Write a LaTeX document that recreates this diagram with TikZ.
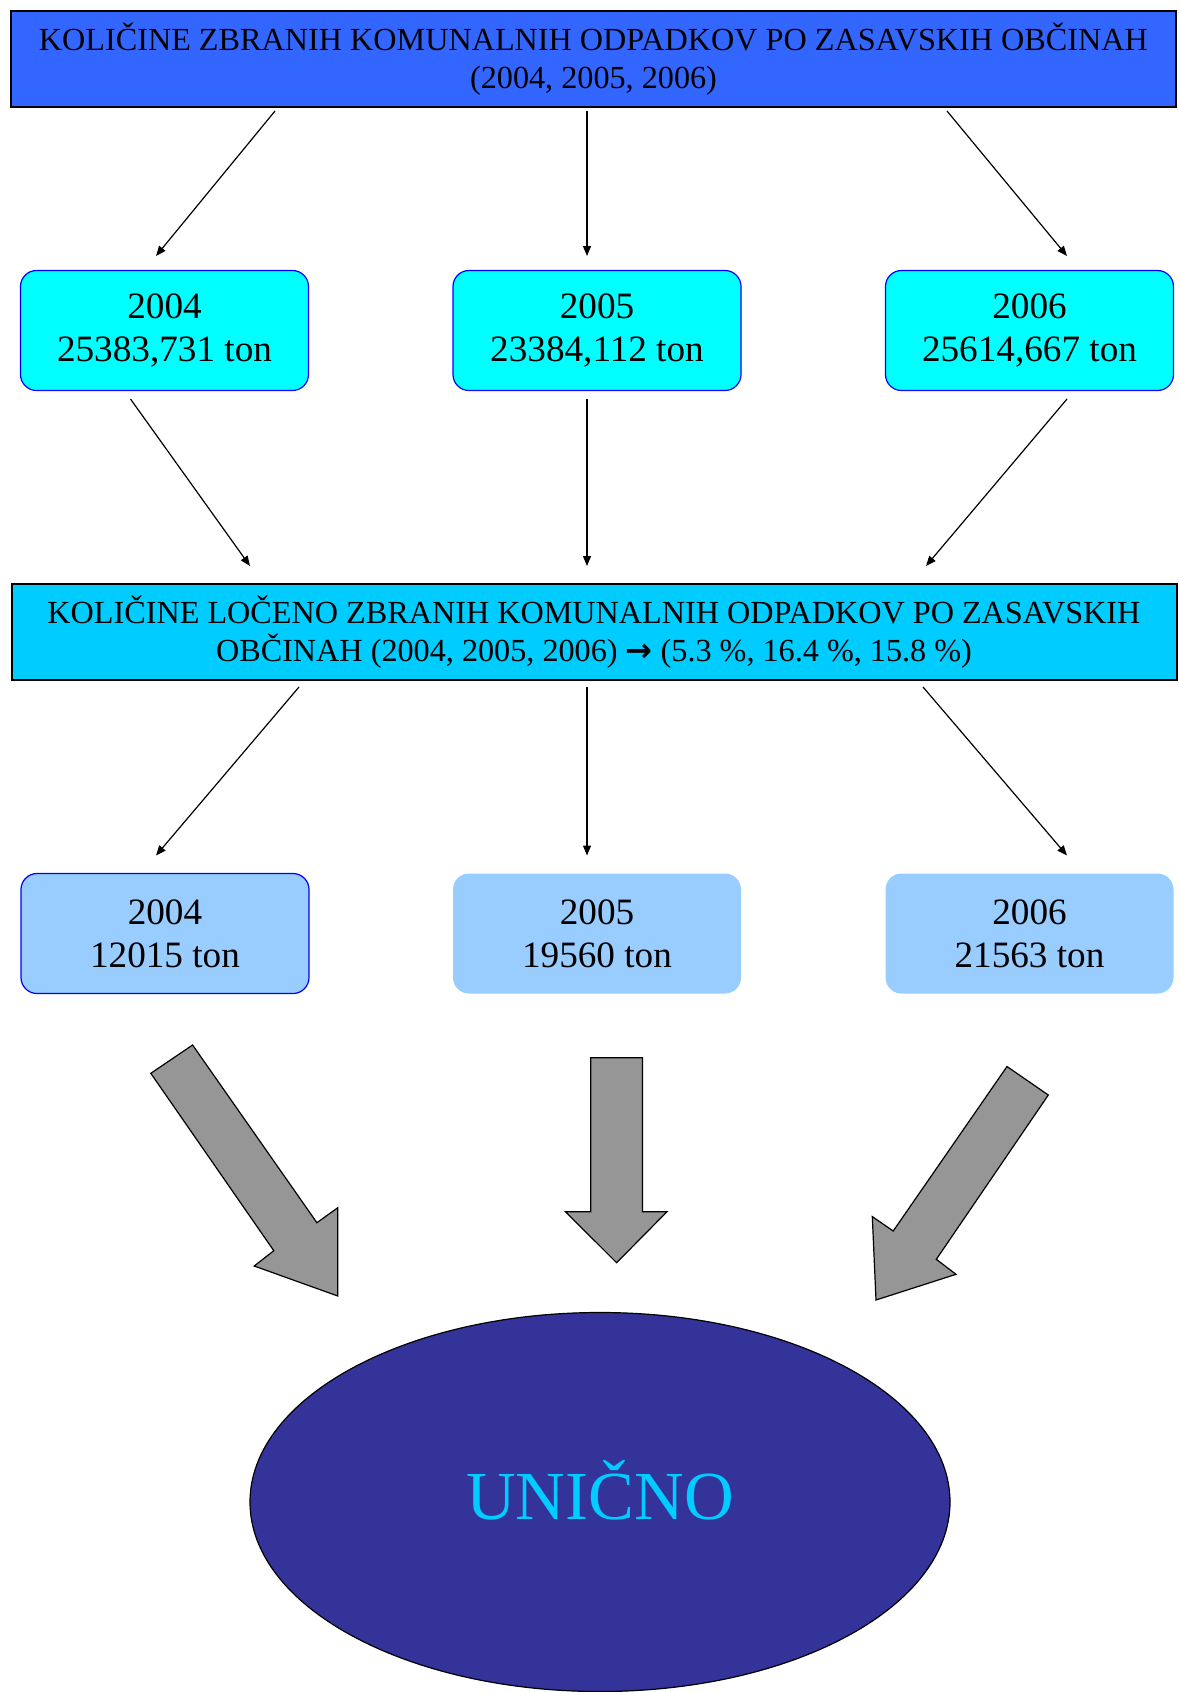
\documentclass[tikz,border=0pt]{standalone}
\usepackage{fontspec}
\setmainfont{Liberation Serif}
\newfontfamily\arrowfont{DejaVu Sans}
\usetikzlibrary{arrows.meta,shapes.geometric}
\definecolor{titleblue}{HTML}{3366FF}
\definecolor{sortblue}{HTML}{00CCFF}
\definecolor{yearcyan}{HTML}{00FFFF}
\definecolor{paleblue}{HTML}{99CCFF}
\definecolor{edgeblue}{HTML}{0000FF}
\definecolor{blockgray}{HTML}{969696}
\definecolor{sinkblue}{HTML}{333399}

\begin{document}
\begin{tikzpicture}[x=0.5pt,y=-0.5pt,
  head/.style={rectangle,draw=black,line width=1pt,minimum width=582.5pt,minimum height=48pt,
    align=center,font=\fontsize{16.1}{19}\selectfont,inner sep=0pt},
  yearbox/.style={rectangle,rounded corners=8pt,draw=edgeblue,line width=0.6pt,fill=yearcyan,
    minimum width=144pt,minimum height=60pt,align=center,font=\fontsize{18.6}{21.6}\selectfont},
  sortbox/.style={yearbox,fill=paleblue,draw=none},
  link/.style={draw=black,line width=0.6pt,-{Triangle[length=5pt,width=4pt]}},
  block/.style={draw=black,line width=0.6pt,fill=blockgray,line join=miter},
  sink/.style={ellipse,draw=black,line width=0.6pt,fill=sinkblue,inner sep=0pt,
    minimum width=350pt,minimum height=189.5pt,text=sortblue,text height=23pt,text depth=5.2pt,
    font=\fontsize{34.4}{40}\selectfont}
]
\useasboundingbox (0,0) rectangle (1178,1692);

% title boxes
\node[head,fill=titleblue] (total) at (593.5,59)
  {KOLIČINE ZBRANIH KOMUNALNIH ODPADKOV PO ZASAVSKIH OBČINAH\\(2004, 2005, 2006)};
\node[head,fill=sortblue] (sorted) at (594,632)
  {KOLIČINE LOČENO ZBRANIH KOMUNALNIH ODPADKOV PO ZASAVSKIH\\
   OBČINAH (2004, 2005, 2006) {\arrowfont\bfseries →} (5.3 \%, 16.4 \%, 15.8 \%)};

% yearly totals
\node[yearbox] (tot04) at (164.5,330.5) {2004\\25383,731 ton};
\node[yearbox] (tot05) at (597,330.5) {2005\\23384,112 ton};
\node[yearbox] (tot06) at (1029.5,330.5) {2006\\25614,667 ton};

% separately collected
\node[sortbox,draw=edgeblue] (sep04) at (165,933.5) {2004\\12015 ton};
\node[sortbox] (sep05) at (597,933.5) {2005\\19560 ton};
\node[sortbox] (sep06) at (1029.5,933.5) {2006\\21563 ton};

\node[sink] (unicno) at (600,1502) {UNIČNO};

% thin arrows
\foreach \n/\sx/\sy/\ex/\ey in {
  a/275/111/156/256, b/587/111/587/256, c/947/111/1067/256,
  d/130.5/399/250/566, e/587/399/587/566, f/1067/399/926/566,
  g/299/687/156/855.5, h/587/687/587/855.5, i/923/687/1067/855.5
} {
  \coordinate (\n0) at (\sx,\sy);
  \coordinate (\n1) at (\ex,\ey);
  \draw[link] (\n0) -- (\n1);
}

% block arrows
\draw[block] (150.8,1073.3) -- (192.6,1045) -- (316.9,1222.7) -- (337.8,1207.7)
  -- (337.8,1296) -- (254.2,1266) -- (273.8,1250.7) -- cycle;
\draw[block] (590.8,1057.7) -- (642.5,1057.7) -- (642.5,1211.7) -- (667,1211.7)
  -- (616.6,1262.7) -- (565.5,1211.7) -- (590.8,1211.7) -- cycle;
\draw[block] (1007,1066.5) -- (1048.3,1095) -- (936.3,1259.3) -- (956,1274.3)
  -- (876,1300) -- (872.3,1216.6) -- (893.2,1231) -- cycle;
\end{tikzpicture}
\end{document}
